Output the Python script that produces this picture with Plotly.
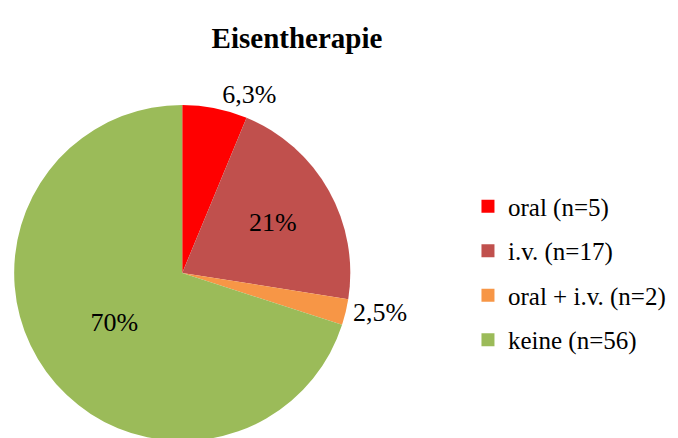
import plotly.graph_objects as go

labels = ["oral (n=5)", "i.v. (n=17)", "oral + i.v. (n=2)", "keine (n=56)"]
values = [5, 17, 2, 56]
pct_text = ["6,3%", "21%", "2,5%", "70%"]
colors = ["#FF0000", "#C0504D", "#F79646", "#9BBB59"]
text_pos = ["outside", "inside", "outside", "inside"]

W, H = 678, 438
SERIF = "Liberation Serif"

fig = go.Figure(go.Pie(
    labels=labels,
    values=values,
    text=pct_text,
    textinfo="text",
    textposition=text_pos,
    insidetextorientation="horizontal",
    marker=dict(colors=colors, line=dict(width=0)),
    sort=False,
    direction="clockwise",
    rotation=0,
    domain=dict(x=[2 / W, 342 / W], y=[0, 1 - 98 / H]),
    textfont=dict(family=SERIF, size=26, color="black"),
    showlegend=False,
    hoverinfo="label+value",
))

# legend entries as separate traces so the item spacing can be widened
for lab, col in zip(labels, colors):
    fig.add_trace(go.Scatter(
        x=[None], y=[None], mode="markers", name=lab,
        legendgroup=lab,
        marker=dict(symbol="square", size=13, color=col),
    ))

fig.update_layout(
    width=W, height=H,
    margin=dict(l=0, r=0, t=0, b=0),
    paper_bgcolor="white",
    plot_bgcolor="white",
    font=dict(family=SERIF, size=25, color="black"),
    title=dict(
        text="<b>Eisentherapie</b>",
        x=289 / W, xanchor="center",
        y=1 - 30 / H, yanchor="middle",
        font=dict(family=SERIF, size=29, color="black"),
    ),
    xaxis=dict(visible=False),
    yaxis=dict(visible=False),
    showlegend=True,
    legend=dict(
        x=459 / W, xanchor="left",
        y=1 - 268 / H, yanchor="middle",
        font=dict(family=SERIF, size=25, color="black"),
        bgcolor="rgba(0,0,0,0)",
        tracegroupgap=9,
        itemwidth=30,
    ),
)

fig.write_html("out.html")
